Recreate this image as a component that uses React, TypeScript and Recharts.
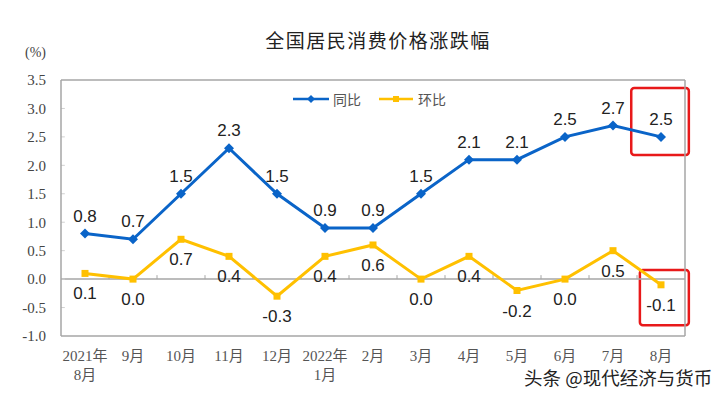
import React from 'react';
import { LineChart, Line, XAxis, YAxis, ReferenceLine, ReferenceArea, LabelList, Legend } from 'recharts';

const months = ['2021年\n8月', '9月', '10月', '11月', '12月', '2022年\n1月', '2月', '3月', '4月', '5月', '6月', '7月', '8月'];
const yoy = [0.8, 0.7, 1.5, 2.3, 1.5, 0.9, 0.9, 1.5, 2.1, 2.1, 2.5, 2.7, 2.5];
const mom = [0.1, 0.0, 0.7, 0.4, -0.3, 0.4, 0.6, 0.0, 0.4, -0.2, 0.0, 0.5, -0.1];
const yTicks = [-1, -0.5, 0, 0.5, 1, 1.5, 2, 2.5, 3, 3.5];
const xTicks = months.map((_, i) => i);
const bandEdges = months.slice(1).map((_, i) => i + 0.5);
const seriesNames = ['同比', '环比'];
const title = '全国居民消费价格涨跌幅';
const unitLabel = '(%)';
const watermark = '头条 @现代经济与货币';
// highlight boxes (in data units: category index x, value y)
const highlights = [
  { x1: 11.38, x2: 12.58, y1: 2.18, y2: 3.36 },
  { x1: 11.56, x2: 12.58, y1: -0.81, y2: 0.16 },
];

const BLUE = '#0A64C8';
const YELLOW = '#FFC000';
const GRAY = '#a6a6a6';

const data = months.map((m, i) => ({ idx: i, month: m, yoy: yoy[i], mom: mom[i] }));

const Diamond = (props: any) => {
  const { cx, cy } = props;
  if (cx == null || cy == null) return null;
  const r = 5;
  return <path d={`M${cx},${cy - r}L${cx + r},${cy}L${cx},${cy + r}L${cx - r},${cy}Z`} fill={BLUE} />;
};

const Square = (props: any) => {
  const { cx, cy } = props;
  if (cx == null || cy == null) return null;
  const s = 7;
  return <rect x={cx - s / 2} y={cy - s / 2} width={s} height={s} fill={YELLOW} />;
};

const XTick = (props: any) => {
  const { x, y, payload } = props;
  const lines = String(months[payload.value] ?? '').split('\n');
  return (
    <text x={x} y={y} textAnchor="middle" fontFamily="'Liberation Serif', 'Noto Sans CJK SC', serif" fontSize={15} fill="#555">
      {lines.map((l, i) => (
        <tspan key={i} x={x} dy={i === 0 ? 25 : 19}>{l}</tspan>
      ))}
    </text>
  );
};

const LegendContent = () => (
  <div style={{ display: 'flex', alignItems: 'center', fontFamily: "'Noto Sans CJK SC', sans-serif", fontSize: 14, color: '#555' }}>
    <svg width={38} height={14}>
      <line x1={0} y1={7} x2={36} y2={7} stroke={BLUE} strokeWidth={2.5} />
      <path d="M18,3L22,7L18,11L14,7Z" fill={BLUE} />
    </svg>
    <span style={{ marginLeft: 2, marginRight: 18 }}>{seriesNames[0]}</span>
    <svg width={36} height={14}>
      <line x1={0} y1={7} x2={34} y2={7} stroke={YELLOW} strokeWidth={2.5} />
      <rect x={14} y={4} width={6} height={6} fill={YELLOW} />
    </svg>
    <span style={{ marginLeft: 3 }}>{seriesNames[1]}</span>
  </div>
);

export default function App() {
  return (
    <div style={{ position: 'absolute', left: 0, top: 0, width: 721, height: 396, background: '#fff' }}>
      <div style={{ position: 'absolute', left: 0, width: 756, top: 28, textAlign: 'center', fontFamily: "'Noto Sans CJK SC', sans-serif", fontSize: 19, letterSpacing: 1.5, color: '#222', lineHeight: '24px' }}>
        {title}
      </div>
      <div style={{ position: 'absolute', left: 25, top: 44, fontFamily: "'Liberation Serif', serif", fontSize: 14, color: '#444', lineHeight: '18px' }}>
        {unitLabel}
      </div>
      <LineChart width={721} height={396} data={data} margin={{ top: 80, right: 36, bottom: 30, left: 0 }}>
        <XAxis
          dataKey="idx"
          type="number"
          domain={[-0.5, 12.5]}
          ticks={xTicks}
          interval={0}
          allowDataOverflow
          height={30}
          tick={<XTick />}
          tickLine={false}
          axisLine={false}
          tickSize={0}
          tickMargin={0}
        />
        <YAxis
          width={61}
          domain={[-1, 3.5]}
          ticks={yTicks}
          interval={0}
          tickFormatter={(v: number) => v.toFixed(1)}
          tick={{ fontFamily: "'Liberation Serif', serif", fontSize: 15, fill: '#444' }}
          tickSize={0}
          tickMargin={15}
          tickLine={false}
          axisLine={{ stroke: GRAY, strokeWidth: 1.5 }}
        />
        <ReferenceLine y={3.5} stroke={GRAY} strokeWidth={1.5} />
        <ReferenceLine y={-1} stroke={GRAY} strokeWidth={1.5} />
        <ReferenceLine y={0} stroke={GRAY} strokeWidth={1.5} />
        <ReferenceLine x={12.5} stroke={GRAY} strokeWidth={1.5} />
        {bandEdges.map((b) => (
          <ReferenceLine key={b} segment={[{ x: b, y: 0 }, { x: b, y: 0.07 }]} stroke={GRAY} strokeWidth={1} />
        ))}
        {yTicks.slice(1, -1).map((t) => (
          <ReferenceLine key={'yt' + t} segment={[{ x: -0.5, y: t }, { x: -0.42, y: t }]} stroke="#d0d0d0" strokeWidth={1} />
        ))}
        <Legend layout="vertical" align="center" verticalAlign="middle" content={<LegendContent />} wrapperStyle={{ position: 'absolute', left: 293, top: 89, width: 180 }} />
        <Line dataKey="yoy" name={seriesNames[0]} stroke={BLUE} strokeWidth={3} dot={<Diamond />} activeDot={false} isAnimationActive={false}>
          <LabelList dataKey="yoy" position="top" offset={12} formatter={(v: number) => v.toFixed(1)} style={{ fontFamily: "'Liberation Sans', Arial, sans-serif", fontSize: 17, fill: '#222' }} />
        </Line>
        <Line dataKey="mom" name={seriesNames[1]} stroke={YELLOW} strokeWidth={3} dot={<Square />} activeDot={false} isAnimationActive={false}>
          <LabelList dataKey="mom" position="bottom" offset={14} formatter={(v: number) => v.toFixed(1)} style={{ fontFamily: "'Liberation Sans', Arial, sans-serif", fontSize: 17, fill: '#222' }} />
        </Line>
        {highlights.map((h, i) => (
          <ReferenceArea key={i} x1={h.x1} x2={h.x2} y1={h.y1} y2={h.y2} ifOverflow="visible" fill="none" stroke="#E8191A" strokeWidth={2.5} radius={3} />
        ))}
      </LineChart>
      <div style={{ position: 'absolute', left: 524, top: 368, fontFamily: "'Noto Sans CJK SC', sans-serif", fontSize: 18.5, color: '#222', lineHeight: '18px', whiteSpace: 'nowrap' }}>
        {watermark}
      </div>
    </div>
  );
}
